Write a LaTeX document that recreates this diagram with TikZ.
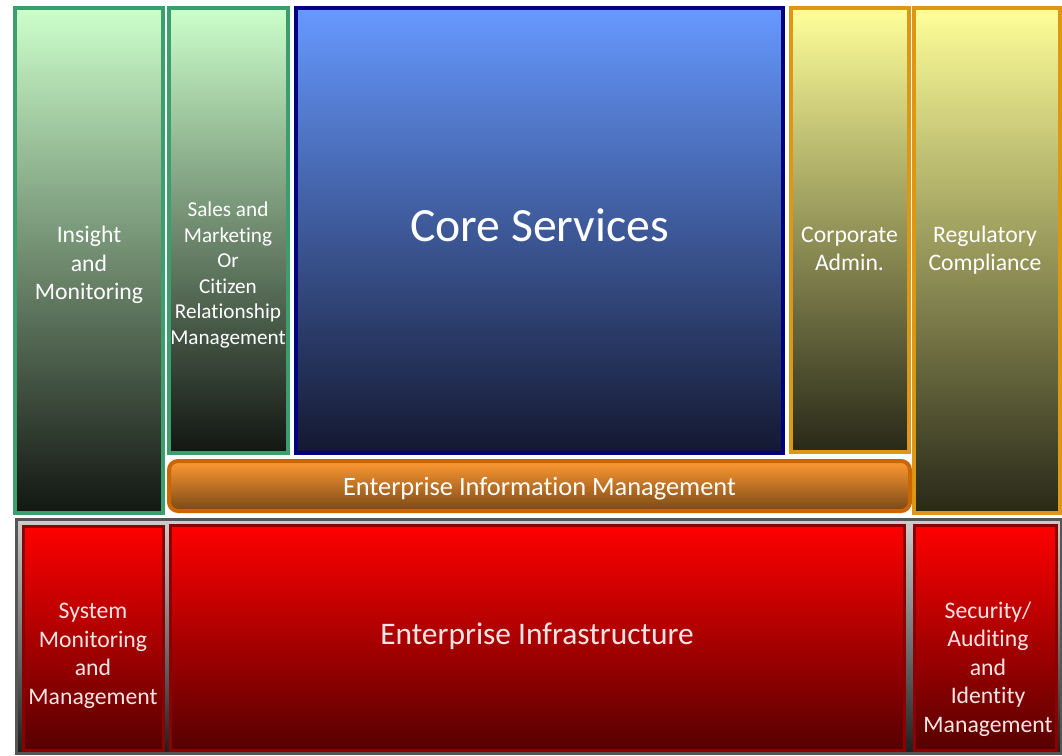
\documentclass[tikz,border=0pt]{standalone}
\usepackage{fontspec}
\setmainfont{Carlito}[Ligatures={CommonOff,ContextualOff}]
\usepackage{tikz}
\usetikzlibrary{
    positioning
}
\definecolor{bordeVerde}{RGB}{60,158,108}
\definecolor{verdeArriba}{RGB}{204,255,204}
\definecolor{verdeAbajo}{RGB}{18,22,18}
\definecolor{bordeAzul}{RGB}{0,0,128}
\definecolor{azulArriba}{RGB}{102,153,255}
\definecolor{azulAbajo}{RGB}{20,24,48}
\definecolor{bordeAmarillo}{RGB}{220,152,20}
\definecolor{amarilloArriba}{RGB}{255,255,153}
\definecolor{amarilloAbajo}{RGB}{40,40,24}
\definecolor{bordeNaranja}{RGB}{204,102,0}
\definecolor{naranjaArriba}{RGB}{255,153,51}
\definecolor{naranjaAbajo}{RGB}{120,72,20}
\definecolor{bordeRojo}{RGB}{140,0,0}
\definecolor{rojoArriba}{RGB}{255,0,0}
\definecolor{rojoAbajo}{RGB}{85,0,0}
\definecolor{bordeGris}{RGB}{85,85,85}
\definecolor{grisArriba}{RGB}{205,205,205}
\definecolor{grisAbajo}{RGB}{30,30,30}
\definecolor{textoRosa}{RGB}{255,228,228}
\tikzset{
    bloque/.style={
        draw,
        line width=4pt,
        inner sep=0pt,
        outer sep=0pt
    },
    verde/.style={bloque, draw=bordeVerde, top color=verdeArriba, bottom color=verdeAbajo},
    azul/.style={bloque, draw=bordeAzul, top color=azulArriba, bottom color=azulAbajo},
    amarillo/.style={bloque, draw=bordeAmarillo, top color=amarilloArriba, bottom color=amarilloAbajo},
    naranja/.style={bloque, draw=bordeNaranja, rounded corners=9pt, top color=naranjaArriba, bottom color=naranjaAbajo},
    rojo/.style={bloque, line width=3pt, draw=bordeRojo, top color=rojoArriba, bottom color=rojoAbajo},
    marco/.style={bloque, line width=3pt, draw=bordeGris, top color=grisArriba, bottom color=grisAbajo},
    texto/.style={
        text=white,
        align=center,
        inner sep=0pt,
        font=\fontsize{23.7}{28.6}\selectfont
    }
}

\begin{document}
\begin{tikzpicture}[
    x=1pt,
    y=-1pt
]

    \useasboundingbox (0,0) rectangle (1062,755);

    % Columnas superiores
    \node[verde, minimum width=148pt, minimum height=505pt]    (insight) at (89,260.5)   {};
    \node[verde, minimum width=119pt, minimum height=445pt]    (sales)   at (228.5,230.5) {};
    \node[azul, minimum width=487pt, minimum height=445pt]     (core)    at (539.5,230.5) {};
    \node[amarillo, minimum width=118pt, minimum height=444pt] (corp)    at (850,230)     {};
    \node[amarillo, minimum width=146pt, minimum height=505pt] (reg)     at (987,260.5)   {};

    % Barra de informacion
    \node[naranja, minimum width=741pt, minimum height=50pt]   (eim)     at (539.5,486)   {};

    % Infraestructura
    \node[marco, minimum width=1045pt, minimum height=234pt]   (infra)   at (538.5,636.5) {};
    \node[rojo, minimum width=140pt, minimum height=224pt]     (sysmon)  at (93.5,638.5)  {};
    \node[rojo, minimum width=734pt, minimum height=225pt]     (entinf)  at (537.5,638)   {};
    \node[rojo, minimum width=142pt, minimum height=225pt]     (secur)   at (985.5,638)   {};

    % Textos
    \node[texto] (t-insight) at (89,265)    {Insight\\and\\Monitoring};
    \node[texto, font=\fontsize{21.2}{25.6}\selectfont]
                 (t-sales)   at (228,275)   {Sales and\\Marketing\\Or\\Citizen\\Relationship\\Management};
    \node[texto, font=\fontsize{47.7}{57}\selectfont]
                 (t-core)    at (539.5,225) {Core Services};
    \node[texto] (t-corp)    at (849.5,249) {Corporate\\Admin.};
    \node[texto] (t-reg)     at (985,250)   {Regulatory\\Compliance};
    \node[texto, font=\fontsize{26.4}{32}\selectfont]
                 (t-eim)     at (539.5,489) {Enterprise Information Management};
    \node[texto, text=textoRosa, font=\fontsize{31.4}{38}\selectfont]
                 (t-entinf)  at (537,636)   {Enterprise Infrastructure};
    \node[texto, text=textoRosa] (t-sysmon) at (93,656)  {System\\Monitoring\\and\\Management};
    \node[texto, text=textoRosa] (t-secur)  at (988,669) {Security/\\Auditing\\and\\Identity\\Management};

\end{tikzpicture}
\end{document}
